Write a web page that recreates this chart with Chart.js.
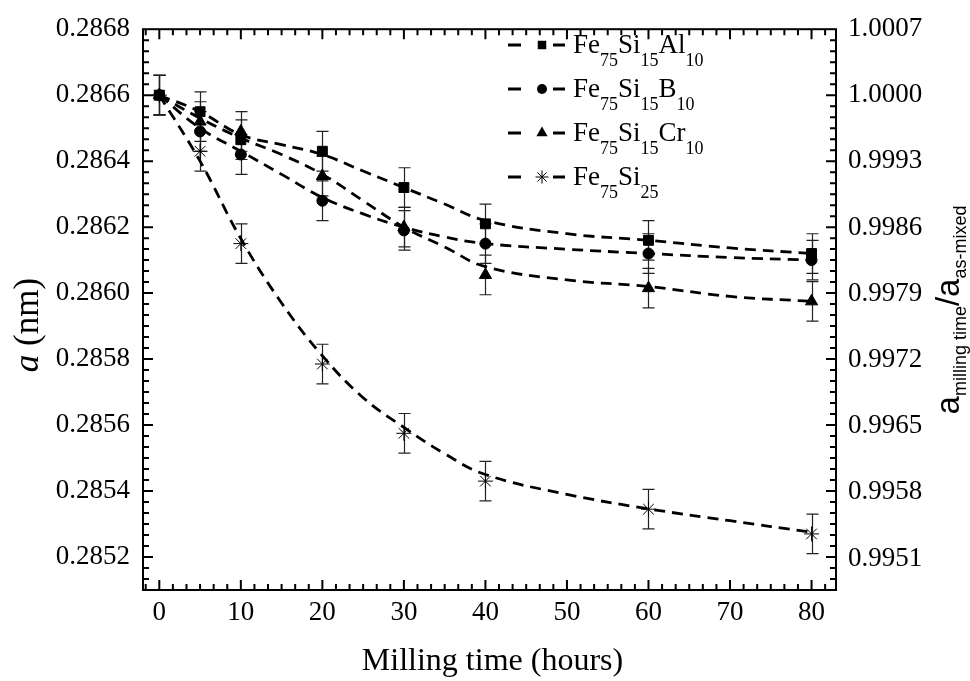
<!DOCTYPE html>
<html>
<head>
<meta charset="utf-8">
<script src="https://cdn.jsdelivr.net/npm/chart.js@4.4.0/dist/chart.umd.min.js"></script>
<style>
  html, body { margin: 0; padding: 0; background: #fff; }
  canvas { display: block; }
</style>
</head>
<body>
<canvas id="chart" width="970" height="681"></canvas>
<script>
// Milling time (h) and measured lattice parameter a (nm) of the bcc Fe phase
const hours = [0, 5, 10, 20, 30, 40, 60, 80];
const latticeAl = [0.28660, 0.28655, 0.286465, 0.28643, 0.28632, 0.28621, 0.28616, 0.28612];
const latticeB  = [0.28660, 0.28649, 0.28642, 0.28628, 0.28619, 0.28615, 0.28612, 0.28610];
const latticeCr = [0.28660, 0.28652, 0.28649, 0.286355, 0.28620, 0.286055, 0.286015, 0.285975];
const latticeSi = [0.28660, 0.28643, 0.28615, 0.285785, 0.285575, 0.28543, 0.285345, 0.28527];

// Symmetric uncertainty on each value (nm)
const errAl = [0.00006, 0.00006, 0.00006, 0.00006, 0.00006, 0.00006, 0.00006, 0.00006];
const errB  = [0.00006, 0.00006, 0.00006, 0.00006, 0.00006, 0.00006, 0.00006, 0.00006];
const errCr = [0.00006, 0.00006, 0.00006, 0.00006, 0.00006, 0.00006, 0.00006, 0.00006];
const errSi = [0.00006, 0.00006, 0.00006, 0.00006, 0.00006, 0.00006, 0.00006, 0.00006];

// Dashed trend curves (nm) sampled along milling time
const fitHours = [0, 5, 10, 15, 20, 25, 30, 35, 40, 50, 60, 70, 80];
const fitAl = [0.28660, 0.28655, 0.28648, 0.28645, 0.28642, 0.28637, 0.28632, 0.28627, 0.28622, 0.28618, 0.28616, 0.286137, 0.28612];
const fitB  = [0.28660, 0.28650, 0.28643, 0.28636, 0.28629, 0.28624, 0.28620, 0.28617, 0.28615, 0.286133, 0.28612, 0.286108, 0.28610];
const fitCr = [0.28660, 0.28653, 0.28647, 0.28642, 0.28636, 0.28628, 0.28620, 0.28614, 0.28608, 0.28604, 0.28602, 0.28599, 0.285975];
const fitSi = [0.28660, 0.28640, 0.286165, 0.28597, 0.28581, 0.285683, 0.285593, 0.285513, 0.28545, 0.28539, 0.285346, 0.28531, 0.285275];

// Alloy names; digits are written as subscripts
const seriesNames = ['Fe75Si15Al10', 'Fe75Si15B10', 'Fe75Si15Cr10', 'Fe75Si25'];
const seriesMarkers = ['rect', 'circle', 'triangle', 'star'];

// Axis ticks
const xTicks = [0, 10, 20, 30, 40, 50, 60, 70, 80];
const yTicks = [0.2852, 0.2854, 0.2856, 0.2858, 0.2860, 0.2862, 0.2864, 0.2866, 0.2868];
const ratioTicks = [0.9951, 0.9958, 0.9965, 0.9972, 0.9979, 0.9986, 0.9993, 1.0000, 1.0007];
const asMixed = 0.2866;

const X_MIN = -2, X_MAX = 83;
const Y_MIN = 0.2851, Y_MAX = 0.2868;

const SERIF = '"Liberation Serif", "Times New Roman", serif';
const SANS = '"Liberation Sans", Arial, sans-serif';

function pairUp(xs, ys) { return xs.map((h, i) => ({ x: h, y: ys[i] })); }

const seriesValues = [latticeAl, latticeB, latticeCr, latticeSi];
const seriesErrors = [errAl, errB, errCr, errSi];
const seriesFits = [fitAl, fitB, fitCr, fitSi];
const markerRadius = { rect: 7, circle: 5.5, triangle: 7, star: 7.5 };

const curveSets = seriesFits.map((vals, k) => ({
  label: seriesNames[k] + ' trend',
  data: pairUp(fitHours, vals),
  showLine: true,
  borderColor: '#000',
  borderWidth: 2.8,
  borderDash: [11, 7],
  borderCapStyle: 'butt',
  tension: 0.4,
  fill: false,
  pointRadius: 0,
  pointHoverRadius: 0,
  xAxisID: 'x',
  yAxisID: 'y'
}));

const markerSets = seriesValues.map((vals, k) => ({
  label: seriesNames[k],
  data: pairUp(hours, vals),
  errors: seriesErrors[k],
  showLine: false,
  pointStyle: seriesMarkers[k],
  pointRadius: markerRadius[seriesMarkers[k]],
  pointHoverRadius: markerRadius[seriesMarkers[k]],
  pointBackgroundColor: '#000',
  pointBorderColor: '#000',
  pointBorderWidth: 1,
  xAxisID: 'x',
  yAxisID: 'y'
}));

// Draws a small marker shape (used by the legend)
function drawMarker(ctx, style, x, y, r) {
  ctx.save();
  ctx.fillStyle = '#000';
  ctx.strokeStyle = '#000';
  ctx.lineWidth = 1;
  ctx.beginPath();
  if (style === 'rect') {
    const s = r * Math.SQRT1_2;
    ctx.rect(x - s, y - s, 2 * s, 2 * s);
    ctx.fill();
  } else if (style === 'circle') {
    ctx.arc(x, y, r, 0, Math.PI * 2);
    ctx.fill();
  } else if (style === 'triangle') {
    const w = r * Math.sqrt(3);
    ctx.moveTo(x, y - r);
    ctx.lineTo(x + w / 2, y + r / 2);
    ctx.lineTo(x - w / 2, y + r / 2);
    ctx.closePath();
    ctx.fill();
  } else if (style === 'star') {
    for (let a = 0; a < 4; a++) {
      const ang = a * Math.PI / 4;
      ctx.moveTo(x - r * Math.cos(ang), y - r * Math.sin(ang));
      ctx.lineTo(x + r * Math.cos(ang), y + r * Math.sin(ang));
    }
    ctx.stroke();
  }
  ctx.restore();
}

// Splits a formula so that digit runs become subscripts
function splitFormula(name) {
  return name.split(/(\d+)/).filter(s => s.length).map(s => ({ t: s, sub: /^\d+$/.test(s) }));
}

function drawRich(ctx, parts, x, y, mainFont, subFont, subShift) {
  let cx = x;
  parts.forEach(p => {
    ctx.font = p.sub ? subFont : mainFont;
    ctx.fillText(p.t, cx, p.sub ? y + subShift : y);
    cx += ctx.measureText(p.t).width;
  });
  return cx - x;
}

function measureRich(ctx, parts, mainFont, subFont) {
  let w = 0;
  parts.forEach(p => {
    ctx.font = p.sub ? subFont : mainFont;
    w += ctx.measureText(p.t).width;
  });
  return w;
}

// Error bars behind the markers
const errorBarPlugin = {
  id: 'errorBars',
  beforeDatasetsDraw(chart) {
    const { ctx } = chart;
    const xs = chart.scales.x, ys = chart.scales.y;
    ctx.save();
    ctx.strokeStyle = '#222';
    ctx.lineWidth = 1.2;
    chart.data.datasets.forEach(ds => {
      if (!ds.errors) return;
      ds.data.forEach((p, i) => {
        const e = ds.errors[i];
        const px = Math.round(xs.getPixelForValue(p.x)) + 0.5;
        const top = ys.getPixelForValue(p.y + e);
        const bot = ys.getPixelForValue(p.y - e);
        ctx.beginPath();
        ctx.moveTo(px, top); ctx.lineTo(px, bot);
        ctx.moveTo(px - 6, top); ctx.lineTo(px + 6, top);
        ctx.moveTo(px - 6, bot); ctx.lineTo(px + 6, bot);
        ctx.stroke();
      });
    });
    ctx.restore();
  }
};

// Box frame with inward major/minor ticks on all four sides
const framePlugin = {
  id: 'frame',
  afterDraw(chart) {
    const { ctx, chartArea: a } = chart;
    const xs = chart.scales.x, ys = chart.scales.y;
    ctx.save();
    ctx.strokeStyle = '#000';
    ctx.lineWidth = 2;
    ctx.beginPath();
    const xMinor = (xTicks[1] - xTicks[0]) / 6;
    for (let k = Math.ceil(X_MIN / xMinor); k * xMinor <= X_MAX; k++) {
      const v = k * xMinor;
      const len = (k % 6 === 0) ? 10 : 6;
      const px = xs.getPixelForValue(v);
      if (px <= a.left + 1 || px >= a.right - 1) continue;
      ctx.moveTo(px, a.bottom); ctx.lineTo(px, a.bottom - len);
      ctx.moveTo(px, a.top); ctx.lineTo(px, a.top + len);
    }
    const yMinor = (yTicks[1] - yTicks[0]) / 6;
    const base = yTicks[0];
    for (let k = -12; k < 200; k++) {
      const v = base + k * yMinor;
      if (v < Y_MIN - 1e-9 || v > Y_MAX + 1e-9) continue;
      const len = (((k % 6) + 6) % 6 === 0) ? 10 : 6;
      const py = ys.getPixelForValue(v);
      if (py <= a.top + 1 || py >= a.bottom - 1) continue;
      ctx.moveTo(a.left, py); ctx.lineTo(a.left + len, py);
      ctx.moveTo(a.right, py); ctx.lineTo(a.right - len, py);
    }
    ctx.stroke();
    ctx.strokeRect(a.left, a.top, a.right - a.left, a.bottom - a.top);
    ctx.restore();
  }
};

// Legend with subscripted alloy names
const legendPlugin = {
  id: 'formulaLegend',
  afterDraw(chart) {
    const { ctx } = chart;
    ctx.save();
    ctx.fillStyle = '#000';
    ctx.strokeStyle = '#000';
    ctx.textBaseline = 'alphabetic';
    ctx.textAlign = 'left';
    const x0 = 508, baseY = 53, rowGap = 44;
    seriesNames.forEach((name, k) => {
      const by = baseY + k * rowGap;
      const ly = by - 8;
      ctx.lineWidth = 2.8;
      ctx.beginPath();
      ctx.moveTo(x0, ly); ctx.lineTo(x0 + 13, ly);
      ctx.moveTo(x0 + 45, ly); ctx.lineTo(x0 + 57, ly);
      ctx.stroke();
      const style = seriesMarkers[k];
      const r = style === 'rect' ? 6 : style === 'circle' ? 5 : 6.5;
      drawMarker(ctx, style, x0 + 34, ly, r);
      drawRich(ctx, splitFormula(name), x0 + 65, by,
        `27px ${SERIF}`, `18px ${SERIF}`, 13);
    });
    ctx.restore();
  }
};

// Axis titles
const titlePlugin = {
  id: 'axisTitles',
  afterDraw(chart) {
    const { ctx, chartArea: a } = chart;
    ctx.save();
    ctx.fillStyle = '#000';
    ctx.textBaseline = 'alphabetic';

    // bottom
    ctx.font = `32px ${SERIF}`;
    ctx.textAlign = 'center';
    ctx.fillText('Milling time (hours)', (a.left + a.right) / 2 + 3, 670);

    // left: italic a, upright unit
    ctx.translate(38, 325);
    ctx.rotate(-Math.PI / 2);
    ctx.textAlign = 'left';
    const leftParts = [{ t: 'a', f: `italic 35px ${SERIF}` }, { t: ' (nm)', f: `35px ${SERIF}` }];
    let tw = 0;
    leftParts.forEach(p => { ctx.font = p.f; tw += ctx.measureText(p.t).width; });
    let cx = -tw / 2;
    leftParts.forEach(p => { ctx.font = p.f; ctx.fillText(p.t, cx, 0); cx += ctx.measureText(p.t).width; });
    ctx.setTransform(1, 0, 0, 1, 0, 0);

    // right: a_{milling time}/a_{as-mixed}
    const rightParts = [
      { t: 'a', sub: false }, { t: 'milling time', sub: true },
      { t: '/', sub: false }, { t: 'a', sub: false }, { t: 'as-mixed', sub: true }
    ];
    const mainF = `33px ${SANS}`, subF = `18px ${SANS}`;
    const rw = measureRich(ctx, rightParts, mainF, subF);
    ctx.translate(959, 310);
    ctx.rotate(-Math.PI / 2);
    drawRich(ctx, rightParts, -rw / 2, 0, mainF, subF, 7);
    ctx.restore();
  }
};

new Chart(document.getElementById('chart'), {
  type: 'line',
  data: { datasets: [...curveSets, ...markerSets] },
  options: {
    responsive: false,
    animation: false,
    events: [],
    layout: { padding: { top: 25, left: 0, right: 0, bottom: 0 } },
    plugins: { legend: { display: false }, tooltip: { enabled: false } },
    scales: {
      x: {
        type: 'linear', position: 'bottom', min: X_MIN, max: X_MAX,
        afterBuildTicks: s => { s.ticks = xTicks.map(v => ({ value: v })); },
        afterFit: s => { s.height = 91; },
        grid: { display: false, drawTicks: false },
        border: { display: false },
        ticks: {
          autoSkip: false, maxRotation: 0, padding: 7, color: '#000',
          font: { family: SERIF, size: 27 },
          callback: v => String(v)
        }
      },
      y: {
        type: 'linear', position: 'left', min: Y_MIN, max: Y_MAX,
        afterBuildTicks: s => { s.ticks = yTicks.map(v => ({ value: v })); },
        afterFit: s => { s.width = 143; },
        grid: { display: false, drawTicks: false },
        border: { display: false },
        ticks: {
          autoSkip: false, padding: 13, color: '#000',
          font: { family: SERIF, size: 27 },
          callback: v => v.toFixed(4)
        }
      },
      y2: {
        type: 'linear', position: 'right', min: Y_MIN / asMixed, max: Y_MAX / asMixed,
        afterBuildTicks: s => { s.ticks = ratioTicks.map(v => ({ value: v })); },
        afterFit: s => { s.width = 134; },
        grid: { display: false, drawTicks: false },
        border: { display: false },
        ticks: {
          autoSkip: false, padding: 12, color: '#000',
          font: { family: SERIF, size: 27 },
          callback: v => v.toFixed(4)
        }
      }
    }
  },
  plugins: [errorBarPlugin, framePlugin, legendPlugin, titlePlugin]
});
</script>
</body>
</html>
